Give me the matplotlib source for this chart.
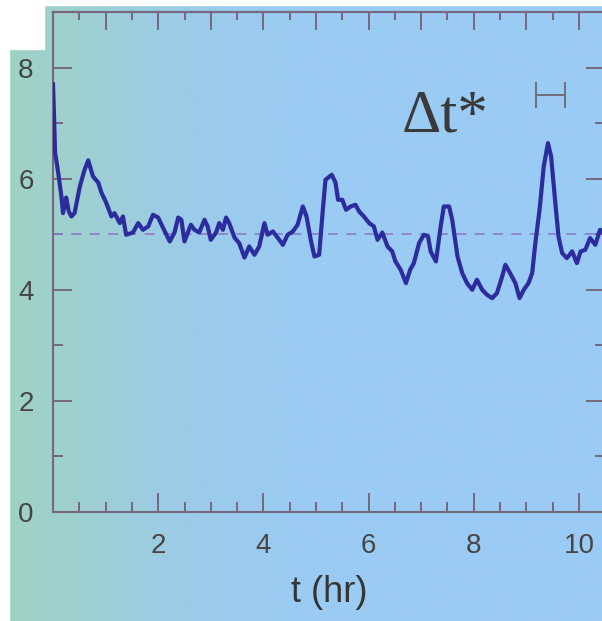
import numpy as np
import matplotlib
matplotlib.use("Agg")
import matplotlib.pyplot as plt
from matplotlib.ticker import MultipleLocator, NullFormatter
from matplotlib.colors import LinearSegmentedColormap
from matplotlib.patches import Rectangle

# trace: time (hr) and signal
t_hr = [0.00, 0.01, 0.04, 0.10, 0.16, 0.19, 0.25, 0.30, 0.35, 0.41, 0.51, 0.60,
        0.67, 0.76, 0.86, 0.92, 1.01, 1.11, 1.17, 1.27, 1.33, 1.39, 1.52, 1.62,
        1.71, 1.81, 1.90, 2.00, 2.09, 2.22, 2.31, 2.38, 2.44, 2.50, 2.62, 2.69,
        2.78, 2.88, 2.94, 3.00, 3.10, 3.16, 3.23, 3.29, 3.35, 3.45, 3.54, 3.64,
        3.73, 3.83, 3.92, 4.02, 4.08, 4.18, 4.27, 4.37, 4.46, 4.56, 4.65, 4.75,
        4.82, 4.90, 4.97, 5.06, 5.13, 5.18, 5.30, 5.37, 5.42, 5.50, 5.57, 5.66,
        5.75, 5.82, 5.91, 6.01, 6.10, 6.17, 6.26, 6.36, 6.45, 6.51, 6.61, 6.71,
        6.79, 6.86, 6.96, 7.05, 7.13, 7.18, 7.28, 7.37, 7.43, 7.53, 7.59, 7.69,
        7.78, 7.87, 7.97, 8.06, 8.16, 8.25, 8.35, 8.44, 8.54, 8.60, 8.69, 8.79,
        8.87, 8.95, 9.04, 9.11, 9.17, 9.25, 9.33, 9.41, 9.47, 9.55, 9.61, 9.68,
        9.77, 9.87, 9.96, 10.03, 10.12, 10.21, 10.31, 10.40, 10.50]
signal = [7.70, 7.42, 6.47, 6.10, 5.68, 5.38, 5.66, 5.41, 5.32, 5.38, 5.86, 6.16,
          6.33, 6.04, 5.93, 5.75, 5.57, 5.32, 5.38, 5.20, 5.32, 4.99, 5.03, 5.20,
          5.08, 5.14, 5.35, 5.30, 5.12, 4.87, 5.03, 5.30, 5.26, 4.87, 5.17, 5.08,
          5.03, 5.26, 5.14, 4.90, 5.03, 5.20, 5.08, 5.30, 5.20, 4.94, 4.84, 4.58,
          4.78, 4.63, 4.78, 5.20, 4.99, 5.05, 4.94, 4.81, 4.99, 5.05, 5.17, 5.50,
          5.32, 4.90, 4.60, 4.63, 5.44, 5.98, 6.07, 5.93, 5.62, 5.62, 5.44, 5.50,
          5.53, 5.41, 5.32, 5.20, 5.14, 4.90, 5.03, 4.78, 4.69, 4.51, 4.36, 4.12,
          4.36, 4.48, 4.84, 4.99, 4.96, 4.69, 4.51, 5.14, 5.50, 5.50, 5.26, 4.60,
          4.30, 4.12, 4.00, 4.18, 4.00, 3.91, 3.85, 3.94, 4.24, 4.45, 4.30, 4.12,
          3.85, 4.00, 4.12, 4.30, 4.84, 5.44, 6.22, 6.64, 6.40, 5.56, 4.96, 4.66,
          4.57, 4.69, 4.48, 4.69, 4.72, 4.93, 4.81, 5.08, 5.00]
mean_level = 5.0
label_text = "\u0394t*"
bar_center = (9.46, 7.5)
bar_halfwidth = 0.276

axis_col = "#76687e"
text_col = "#454545"

fig = plt.figure(figsize=(6.02, 6.21), dpi=100)

# scanned-page backdrop: teal on the left fading to light blue
bg = fig.add_axes([0, 0, 1, 1], zorder=-5)
cmap = LinearSegmentedColormap.from_list(
    "scan", [(0.0, "#a0d3c4"), (0.12, "#9fd0d0"), (0.3, "#9ccbe8"), (0.5, "#9acbf3"), (1.0, "#9acbf5")])
bg.imshow(np.linspace(0, 1, 256)[None, :], aspect="auto", cmap=cmap,
          extent=[0, 1, 0, 1], transform=bg.transAxes)
bg.add_patch(Rectangle((0, 0), 9 / 602, 1, color="white", transform=bg.transAxes))
bg.add_patch(Rectangle((0, 1 - 49 / 621), 44 / 602, 49 / 621, color="white", transform=bg.transAxes))
bg.add_patch(Rectangle((0, 1 - 5 / 621), 1, 5 / 621, color="white", transform=bg.transAxes))
bg.set_axis_off()

ax = fig.add_axes([53 / 602, 109 / 621, 552.3 / 602, 500 / 621])
ax.set_facecolor("none")
ax.plot(t_hr, signal, color="#2c2c9e", lw=3.0, solid_joinstyle="round", zorder=3)
ax.axhline(mean_level, color="#8a7cc8", lw=1.2, dashes=(6, 5), zorder=2)
ax.errorbar([bar_center[0]], [bar_center[1]], xerr=[bar_halfwidth], fmt="none",
            ecolor="#6e6e78", elinewidth=1.4, capsize=9.5, capthick=1.4)
ax.text(6.63, 6.85, label_text, family="Liberation Serif", fontsize=44,
        color="#3a3a3a", ha="left", va="baseline")

ax.set_xlim(0, 10.5)
ax.set_ylim(0, 9)
for s in ax.spines.values():
    s.set_color(axis_col)
    s.set_linewidth(1.5)

ax.xaxis.set_major_locator(MultipleLocator(2))
ax.xaxis.set_minor_locator(MultipleLocator(0.5))
ax.yaxis.set_major_locator(MultipleLocator(2))
ax.yaxis.set_minor_locator(MultipleLocator(1))
ax.tick_params(which="both", direction="in", color=axis_col, width=1.4,
               top=False, right=True, labelcolor=text_col)
ax.tick_params(which="major", length=14)
ax.tick_params(which="minor", length=7)
ax.tick_params(axis="x", labelsize=20, pad=15)
ax.tick_params(axis="y", labelsize=20, pad=14)
ax.set_xticks([2, 4, 6, 8, 10])
for lbl in ax.get_xticklabels() + ax.get_yticklabels():
    lbl.set_family("Liberation Sans")

top = ax.secondary_xaxis("top")
top.xaxis.set_major_locator(MultipleLocator(1))
top.xaxis.set_minor_locator(MultipleLocator(0.5))
top.xaxis.set_major_formatter(NullFormatter())
top.tick_params(which="both", direction="in", color=axis_col, width=1.4)
top.tick_params(which="major", length=13)
top.tick_params(which="minor", length=6)
top.spines["top"].set_color(axis_col)
top.spines["top"].set_linewidth(1.5)

ax.set_xlabel("t (hr)", family="Liberation Sans", fontsize=26, color="#353535", labelpad=12)

fig.savefig("out.png", dpi=100)
